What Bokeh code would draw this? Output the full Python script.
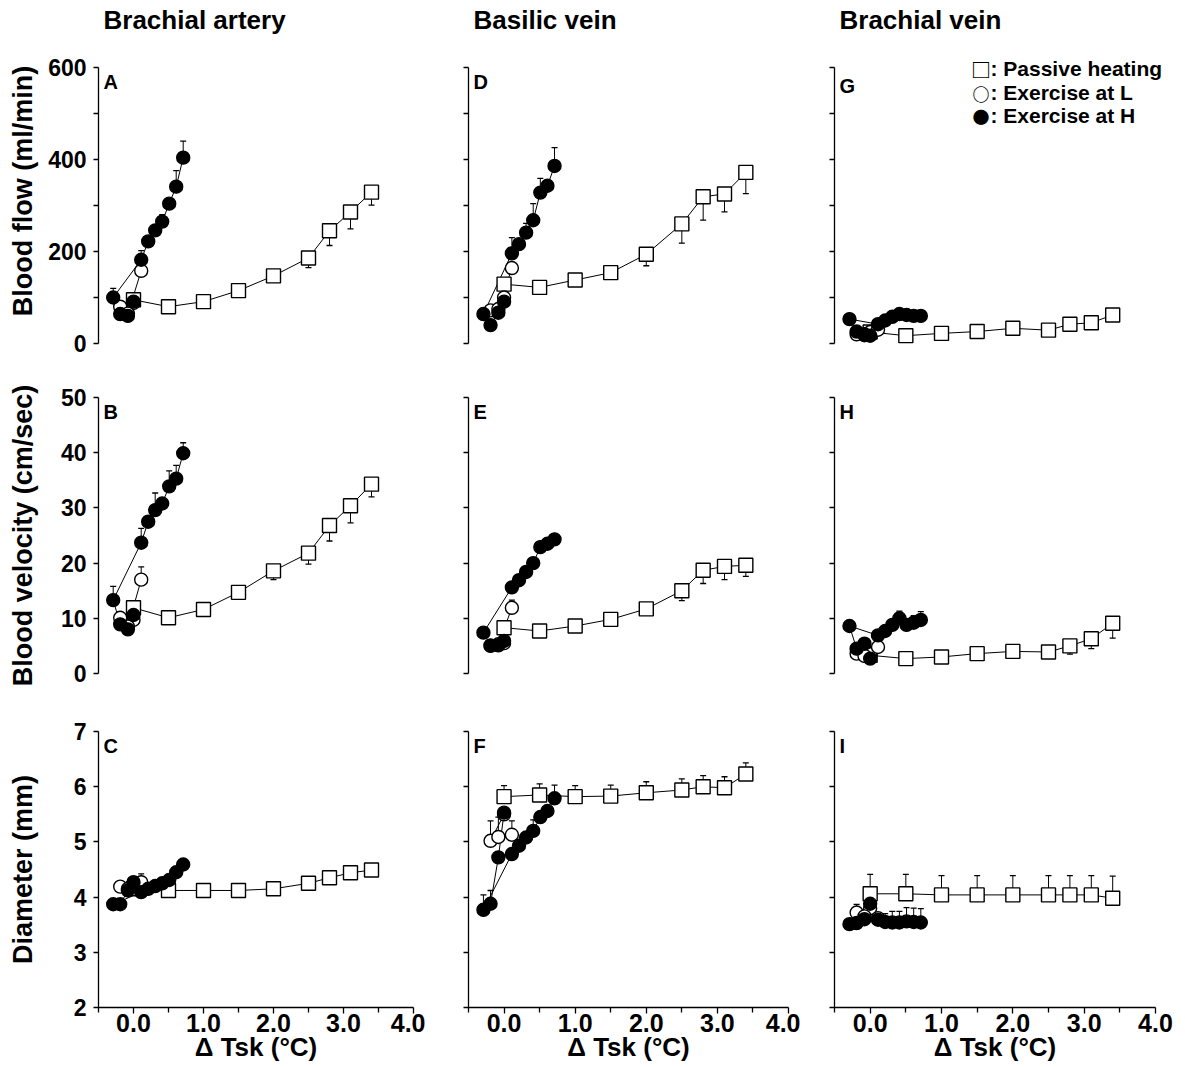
from bokeh.plotting import figure
from bokeh.layouts import column, row
from bokeh.models import (Range1d, FixedTicker, PrintfTickFormatter, CustomJSTickFormatter, Label)
from bokeh.embed import file_html
from bokeh.resources import INLINE

# ---------------- data ----------------
# x = change in skin temperature (deg C)
dtsk_passive = [0.0, 0.5, 1.0, 1.5, 2.0, 2.5, 2.8, 3.1, 3.4]
dtsk_ex_L = [0.0, -0.19, -0.08, 0.11]
dtsk_ex_H = [0.0, -0.08, -0.19, -0.29, 0.11, 0.21, 0.31, 0.41, 0.51, 0.61, 0.71]

# SD values: sign gives the side on which the bar is drawn (+ up, - down), 0 = not shown
# A: brachial artery blood flow (ml/min)
flow_artery_passive = [95, 80, 91, 115, 147, 186, 245, 286, 329]
flow_artery_passive_sd = [0, 0, 0, 0, 0, -21, -32, -37, -28]
flow_artery_L = [88, 80, 65, 158]
flow_artery_L_sd = [0, 0, 0, 0]
flow_artery_H = [91, 60, 64, 100, 182, 222, 246, 265, 304, 341, 404]
flow_artery_H_sd = [0, 0, 0, 20, 20, 0, 12, 15, 0, 35, 36]
# D: basilic vein blood flow
flow_basilic_passive = [129, 122, 138, 154, 194, 260, 319, 325, 372]
flow_basilic_passive_sd = [0, 0, -4, -4, -25, -42, -51, -39, -46]
flow_basilic_L = [100, 72, 75, 164]
flow_basilic_L_sd = [0, 0, 0, 0]
flow_basilic_H = [91, 67, 40, 64, 196, 216, 241, 268, 328, 343, 386]
flow_basilic_H_sd = [0, 0, 0, 0, 34, 0, 20, 36, 31, 0, 40]
# G: brachial vein blood flow
flow_bvein_passive = [25, 17, 22, 26, 33, 29, 42, 45, 62]
flow_bvein_passive_sd = [0, 0, 0, 0, 0, 0, -5, 0, -5]
flow_bvein_L = [25, 20, 18, 30]
flow_bvein_L_sd = [0, 0, 0, 0]
flow_bvein_H = [17, 20, 26, 53, 42, 50, 58, 64, 62, 60, 60]
flow_bvein_H_sd = [0, 0, 0, 0, 0, 0, 0, 0, 0, 0, 0]
# B: brachial artery blood velocity (cm/sec)
vel_artery_passive = [11.9, 10.1, 11.6, 14.7, 18.6, 21.8, 26.8, 30.4, 34.3]
vel_artery_passive_sd = [0, 0, 0, -0.5, -1.6, -2.0, -2.8, -3.1, -2.3]
vel_artery_L = [9.7, 10.1, 8.5, 17.0]
vel_artery_L_sd = [0, 0, 0, 2.3]
vel_artery_H = [10.6, 8.0, 8.9, 13.3, 23.7, 27.5, 29.6, 30.8, 33.9, 35.3, 39.9]
vel_artery_H_sd = [0, 0, 0, 2.5, 2.6, 0, 3.1, 0, 2.8, 2.4, 1.9]
# E: basilic vein blood velocity
vel_basilic_passive = [8.3, 7.7, 8.6, 9.8, 11.7, 15.0, 18.7, 19.4, 19.6]
vel_basilic_passive_sd = [0, 0, 0, 0, 0, -1.8, -2.4, -2.4, -2.0]
vel_basilic_L = [5.5, 5.0, 5.3, 11.9]
vel_basilic_L_sd = [0, 0, 0, 1.4]
vel_basilic_H = [5.9, 5.1, 5.1, 7.4, 15.6, 16.9, 18.4, 20.0, 22.9, 23.5, 24.3]
vel_basilic_H_sd = [0, 0, 0, 0, 0, 0, 0, 0, 0, 0, 0]
# H: brachial vein blood velocity
vel_bvein_passive = [3.3, 2.7, 3.0, 3.6, 4.0, 3.9, 5.0, 6.3, 9.1]
vel_bvein_passive_sd = [0, 0, 0, 0, 0, 0, -1.5, -1.8, -2.7]
vel_bvein_L = [3.5, 3.6, 3.2, 4.8]
vel_bvein_L_sd = [0, 0, 0, 0]
vel_bvein_H = [2.7, 5.4, 4.5, 8.6, 6.9, 7.7, 8.8, 10.0, 8.8, 9.2, 9.7]
vel_bvein_H_sd = [0, 0, 0, 0, 0, 0, 0, 1.3, 0, 1.3, 1.5]
# C: brachial artery diameter (mm)
diam_artery_passive = [4.15, 4.12, 4.12, 4.12, 4.15, 4.25, 4.35, 4.44, 4.49]
diam_artery_passive_sd = [0, 0, 0, 0, 0, -0.05, -0.05, -0.05, -0.05]
diam_artery_L = [4.2, 4.19, 4.15, 4.27]
diam_artery_L_sd = [0, 0, 0, 0.15]
diam_artery_H = [4.27, 4.12, 3.87, 3.87, 4.09, 4.15, 4.2, 4.25, 4.31, 4.45, 4.59]
diam_artery_H_sd = [0, 0, 0, 0, 0, 0, 0, 0, 0, 0, 0.1]
# F: basilic vein diameter
diam_basilic_passive = [5.82, 5.85, 5.82, 5.83, 5.89, 5.94, 6.0, 5.98, 6.23]
diam_basilic_passive_sd = [0.2, 0.2, 0.2, 0.2, 0.2, 0.2, 0.2, 0.2, 0.2]
diam_basilic_L = [5.5, 5.02, 5.09, 5.13]
diam_basilic_L_sd = [0, 0.36, 0.36, 0.25]
diam_basilic_H = [5.53, 4.72, 3.88, 3.77, 4.78, 4.93, 5.08, 5.2, 5.45, 5.56, 5.79]
diam_basilic_H_sd = [0, 0, 0.24, 0.27, 0, 0, 0, 0.2, 0, 0, 0.24]
# I: brachial vein diameter
diam_bvein_passive = [4.06, 4.06, 4.04, 4.04, 4.04, 4.04, 4.04, 4.04, 3.98]
diam_bvein_passive_sd = [0.35, 0.35, 0.35, 0.35, 0.35, 0.35, 0.35, 0.35, 0.4]
diam_bvein_L = [3.8, 3.72, 3.65, 3.62]
diam_bvein_L_sd = [0, 0.15, 0, 0]
diam_bvein_H = [3.88, 3.6, 3.53, 3.51, 3.59, 3.55, 3.54, 3.54, 3.56, 3.55, 3.54]
diam_bvein_H_sd = [0, 0, 0, 0, 0, 0.15, 0.2, 0.2, 0.25, 0.25, 0.25]

column_titles = ["Brachial artery", "Basilic vein", "Brachial vein"]
row_titles = ["Blood flow (ml/min)", "Blood velocity (cm/sec)", "Diameter (mm)"]
panel_letters = [["A", "D", "G"], ["B", "E", "H"], ["C", "F", "I"]]
y_ranges = [(0, 600), (0, 50), (2, 7)]
y_major = [[0, 200, 400, 600], [0, 10, 20, 30, 40, 50], [2, 3, 4, 5, 6, 7]]
y_minor = [[100, 300, 500], [], []]
x_range = (-0.5, 4.0)
x_major = [0, 1, 2, 3, 4]
x_minor = [-0.5, 0.5, 1.5, 2.5, 3.5]
x_title = "\u0394 Tsk (\u00b0C)"
legend_symbols = ["\u25a1", "\u25cb", "\u25cf"]
legend_texts = [": Passive heating", ": Exercise at L", ": Exercise at H"]

panel_data = [
    [(flow_artery_passive, flow_artery_passive_sd, flow_artery_L, flow_artery_L_sd, flow_artery_H, flow_artery_H_sd),
     (flow_basilic_passive, flow_basilic_passive_sd, flow_basilic_L, flow_basilic_L_sd, flow_basilic_H, flow_basilic_H_sd),
     (flow_bvein_passive, flow_bvein_passive_sd, flow_bvein_L, flow_bvein_L_sd, flow_bvein_H, flow_bvein_H_sd)],
    [(vel_artery_passive, vel_artery_passive_sd, vel_artery_L, vel_artery_L_sd, vel_artery_H, vel_artery_H_sd),
     (vel_basilic_passive, vel_basilic_passive_sd, vel_basilic_L, vel_basilic_L_sd, vel_basilic_H, vel_basilic_H_sd),
     (vel_bvein_passive, vel_bvein_passive_sd, vel_bvein_L, vel_bvein_L_sd, vel_bvein_H, vel_bvein_H_sd)],
    [(diam_artery_passive, diam_artery_passive_sd, diam_artery_L, diam_artery_L_sd, diam_artery_H, diam_artery_H_sd),
     (diam_basilic_passive, diam_basilic_passive_sd, diam_basilic_L, diam_basilic_L_sd, diam_basilic_H, diam_basilic_H_sd),
     (diam_bvein_passive, diam_bvein_passive_sd, diam_bvein_L, diam_bvein_L_sd, diam_bvein_H, diam_bvein_H_sd)],
]

# ---------------- layout / style ----------------
FONT = "Liberation Sans"
SYM_FONT = "Noto Sans CJK JP"
SYM_SIZES = ["20px", "17px", "17px"]
INK = "black"
FRAME_W = [315, 320, 321]
BORDER_L = [98, 43, 34]
BORDER_R = [12, 12, 20]
FRAME_H = 276
BORDER_T = [67, 24, 38]
BORDER_B = [20, 20, 58]
YLABEL_STANDOFF = [7, 20, 33]
# top-row frames are extended (invisibly) upward so column titles / legend can sit inside them
TOP_EXT = 59
# panel A frame is extended (invisibly) downward so that its axis title sits lower
A_DOWN_EXT = 30
G_EXTRA_RIGHT = 17


def err_parts(xs, ys, sds):
    ex = [x for x, s in zip(xs, sds) if s]
    y0 = [y for y, s in zip(ys, sds) if s]
    y1 = [y + s for y, s in zip(ys, sds) if s]
    return ex, y0, y1


def make_panel(r, c):
    is_g = (r, c) == (0, 2)
    down = A_DOWN_EXT if (r, c) == (0, 0) else 0
    fw, fh = FRAME_W[c], FRAME_H
    bt, br, bb = BORDER_T[r], BORDER_R[c], BORDER_B[r]
    xr = x_range
    y0, y1 = y_ranges[r]
    ppu = FRAME_H / (y1 - y0)
    yr = (y0, y1)
    if r == 0:
        fh += TOP_EXT + down
        bt -= TOP_EXT
        bb = max(0, bb - down)
        yr = (y0 - down / ppu, y1 + TOP_EXT / ppu)
    if is_g:
        fw += G_EXTRA_RIGHT
        br -= G_EXTRA_RIGHT
        xr = (x_range[0], x_range[0] + (x_range[1] - x_range[0]) * fw / FRAME_W[c])
    p = figure(frame_width=fw, frame_height=fh,
               x_range=Range1d(*xr), y_range=Range1d(*yr),
               output_backend="svg", toolbar_location=None,
               min_border_left=BORDER_L[c], min_border_right=br,
               min_border_top=bt, min_border_bottom=bb)
    p.outline_line_color = None
    p.grid.visible = False
    p.background_fill_color = "white"
    p.border_fill_color = "white"

    pas, pas_sd, exl, exl_sd, exh, exh_sd = panel_data[r][c]
    series = [(dtsk_passive, pas, pas_sd), (dtsk_ex_L, exl, exl_sd), (dtsk_ex_H, exh, exh_sd)]

    for xs, ys, _ in series:
        p.line(xs, ys, line_color=INK, line_width=1)
    for xs, ys, sds in series:
        ex, ey0, ey1 = err_parts(xs, ys, sds)
        if ex:
            p.segment(ex, ey0, ex, ey1, line_color=INK, line_width=1)
            p.scatter(ex, ey1, marker="dash", size=6, line_color=INK, line_width=1.3)
    p.scatter(dtsk_passive, pas, marker="square", size=14, fill_color="white",
              line_color=INK, line_width=1.4)
    p.scatter(dtsk_ex_L, exl, marker="circle", size=13, fill_color="white",
              line_color=INK, line_width=1.4)
    p.scatter(dtsk_ex_H, exh, marker="circle", size=13, fill_color=INK,
              line_color=INK, line_width=1.4)

    # y axis
    ya = p.yaxis[0]
    ya.bounds = y_ranges[r]
    ya.ticker = FixedTicker(ticks=y_major[r], minor_ticks=y_minor[r])
    ya.axis_line_color = INK
    ya.axis_line_width = 1.3
    ya.major_tick_line_width = 1.3
    ya.minor_tick_line_width = 1.3
    ya.major_tick_out = 5
    ya.major_tick_in = 0
    ya.minor_tick_out = 5
    ya.minor_tick_in = 0
    ya.major_label_text_font = FONT
    ya.major_label_text_font_style = "bold"
    ya.major_label_text_font_size = "23px"
    ya.major_label_text_color = INK
    ya.major_label_standoff = 7
    if c == 0:
        ya.axis_label = row_titles[r]
        ya.axis_label_text_font = FONT
        ya.axis_label_text_font_style = "bold"
        ya.axis_label_text_font_size = "27px"
        ya.axis_label_text_color = INK
        ya.axis_label_standoff = YLABEL_STANDOFF[r]
    else:
        ya.formatter = CustomJSTickFormatter(code="return ''")

    # x axis
    xa = p.xaxis[0]
    if r < 2:
        xa.visible = False
    else:
        xa.bounds = x_range
        xa.ticker = FixedTicker(ticks=x_major, minor_ticks=x_minor)
        xa.formatter = PrintfTickFormatter(format="%.1f")
        xa.axis_line_color = INK
        xa.axis_line_width = 1.3
        xa.major_tick_line_width = 1.3
        xa.minor_tick_line_width = 1.3
        xa.major_tick_out = 6
        xa.major_tick_in = 0
        xa.minor_tick_out = 5
        xa.minor_tick_in = 0
        xa.major_label_text_font = FONT
        xa.major_label_text_font_style = "bold"
        xa.major_label_text_font_size = "25px"
        xa.major_label_text_color = INK
        xa.major_label_standoff = 0
        xa.axis_label = x_title
        xa.axis_label_text_font = FONT
        xa.axis_label_text_font_style = "bold"
        xa.axis_label_text_font_size = "26px"
        xa.axis_label_text_color = INK
        xa.axis_label_standoff = -3

    # panel letter (screen y measured from the frame bottom)
    p.add_layout(Label(x=5, y=down + FRAME_H - (18 if is_g else 14),
                       x_units="screen", y_units="screen", text=panel_letters[r][c],
                       text_font=FONT, text_font_style="bold", text_font_size="20px",
                       text_color=INK, text_baseline="alphabetic"))
    if r == 0:
        # column title
        p.add_layout(Label(x=5, y=down + FRAME_H + 48, x_units="screen", y_units="screen",
                           text=column_titles[c], text_font=FONT, text_font_style="bold",
                           text_font_size="26px", text_color=INK, text_baseline="alphabetic"))
    if is_g:
        # legend
        for i in range(3):
            ly = FRAME_H - 1 - 23.5 * i
            p.add_layout(Label(x=146.5, y=ly - 1, x_units="screen", y_units="screen",
                               text=legend_symbols[i], text_font=SYM_FONT, text_font_style="bold",
                               text_font_size=SYM_SIZES[i], text_color=INK, text_align="center",
                               text_baseline="alphabetic"))
            p.add_layout(Label(x=156, y=ly, x_units="screen", y_units="screen",
                               text=legend_texts[i], text_font=FONT, text_font_style="bold",
                               text_font_size="21px", text_color=INK, text_baseline="alphabetic"))
    return p


rows = []
for r in range(3):
    rows.append(row(*[make_panel(r, c) for c in range(3)]))
layout = column(*rows)

open("out.html", "w").write(file_html(layout, INLINE))
